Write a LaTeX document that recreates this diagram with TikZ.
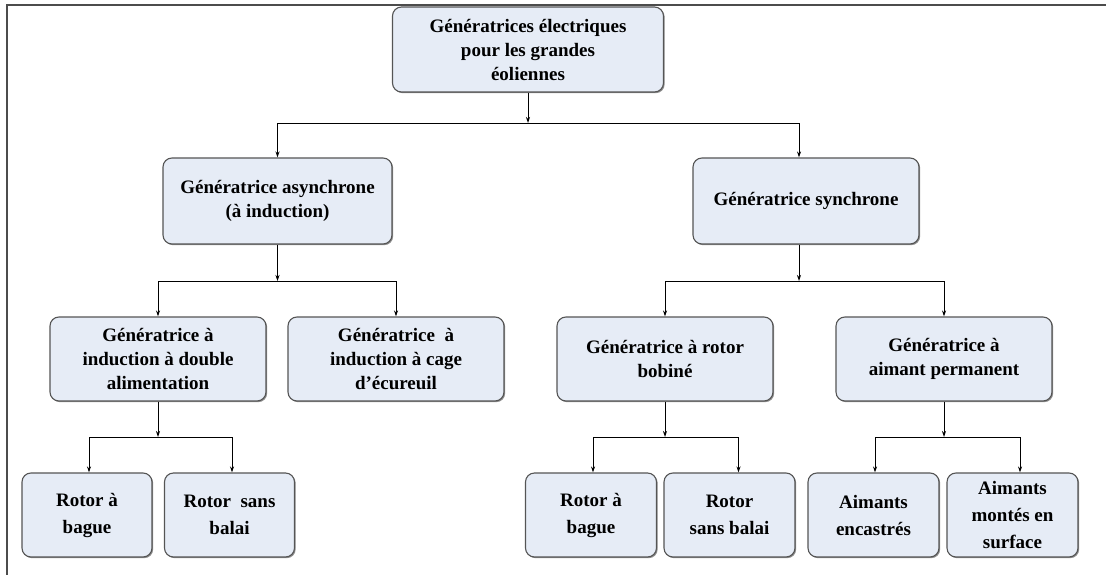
\documentclass[tikz,border=0pt]{standalone}
\usepackage{fontspec}
\setmainfont{Liberation Serif}
\usetikzlibrary{shadows,arrows.meta,calc}
\definecolor{boxfill}{HTML}{E6ECF6}
\definecolor{boxline}{HTML}{555555}
\tikzset{
  gbox/.style={draw=boxline, line width=1.1pt, fill=boxfill, rounded corners=9pt,
    align=center, font=\fontsize{19}{24}\selectfont\bfseries, inner sep=2pt,
    drop shadow={shadow xshift=1.2pt, shadow yshift=-1.2pt, fill=black!55, opacity=0.8}},
  lvlthree/.style={font=\fontsize{19}{27}\selectfont\bfseries},
  arr/.style={line width=0.9pt, -{Stealth[length=6pt,width=4pt]}},
  frameline/.style={line width=1.6pt, draw=black!70},
}
\begin{document}
\begin{tikzpicture}[x=1pt,y=-1pt]
\useasboundingbox (0,0) rectangle (1106,575);
\draw[frameline] (1106,5) -- (7,5) -- (7,575);

% level 0
\node[gbox, minimum width=271pt, minimum height=85pt] (top) at (528,49.5)
  {Génératrices électriques\\pour les grandes\\éoliennes};
% level 1
\node[gbox, minimum width=229pt, minimum height=86pt] (asyn) at (277.5,201)
  {Génératrice asynchrone\\(à induction)};
\node[gbox, minimum width=226pt, minimum height=86pt] (syn) at (806,201)
  {Génératrice synchrone};
% level 2
\node[gbox, minimum width=216pt, minimum height=84pt] (dbl) at (158,359)
  {Génératrice à\\induction à double\\alimentation};
\node[gbox, minimum width=216pt, minimum height=84pt] (cage) at (396,359)
  {Génératrice~ à\\induction à cage\\d’écureuil};
\node[gbox, minimum width=216pt, minimum height=84pt] (bob) at (665,359)
  {Génératrice à rotor\\bobiné};
\node[gbox, minimum width=216pt, minimum height=84pt] (perm) at (944,359)
  {Génératrice à\\aimant permanent};
% level 3
\node[gbox, lvlthree, minimum width=130pt, minimum height=84pt] (bag1) at (87,515)
  {Rotor à\\bague};
\node[gbox, lvlthree, minimum width=130pt, minimum height=84pt] (bal1) at (229.5,515)
  {Rotor~ sans\\balai};
\node[gbox, lvlthree, minimum width=131pt, minimum height=84pt] (bag2) at (591,515)
  {Rotor à\\bague};
\node[gbox, lvlthree, minimum width=131pt, minimum height=84pt] (bal2) at (729.5,515)
  {Rotor\\sans balai};
\node[gbox, lvlthree, minimum width=131pt, minimum height=84pt] (enc) at (873.5,515)
  {Aimants\\encastrés};
\node[gbox, lvlthree, minimum width=131pt, minimum height=84pt] (surf) at (1012.5,515)
  {Aimants\\montés en\\surface};

% junctions
\coordinate (j0) at (528,123);
\coordinate (j1) at (277.5,281);
\coordinate (j2) at (799,281);
\coordinate (j3) at (158,437);
\coordinate (j4) at (665,437);
\coordinate (j5) at (944,437);

\draw[arr] (top.south) -- (j0);
\draw[arr] (j0) -| (asyn.north);
\draw[arr] (j0) -| ([xshift=-7pt]syn.north);

\draw[arr] (asyn.south) -- (j1);
\draw[arr] (j1) -| (dbl.north);
\draw[arr] (j1) -| (cage.north);

\draw[arr] ([xshift=-7pt]syn.south) -- (j2);
\draw[arr] (j2) -| (bob.north);
\draw[arr] (j2) -| (perm.north);

\draw[arr] (dbl.south) -- (j3);
\draw[arr] (j3) -| ([xshift=2pt]bag1.north);
\draw[arr] (j3) -| ([xshift=2.5pt]bal1.north);

\draw[arr] (bob.south) -- (j4);
\draw[arr] (j4) -| ([xshift=2pt]bag2.north);
\draw[arr] (j4) -| ([xshift=9pt]bal2.north);

\draw[arr] (perm.south) -- (j5);
\draw[arr] (j5) -| ([xshift=1.5pt]enc.north);
\draw[arr] (j5) -| ([xshift=7.5pt]surf.north);
\end{tikzpicture}
\end{document}
